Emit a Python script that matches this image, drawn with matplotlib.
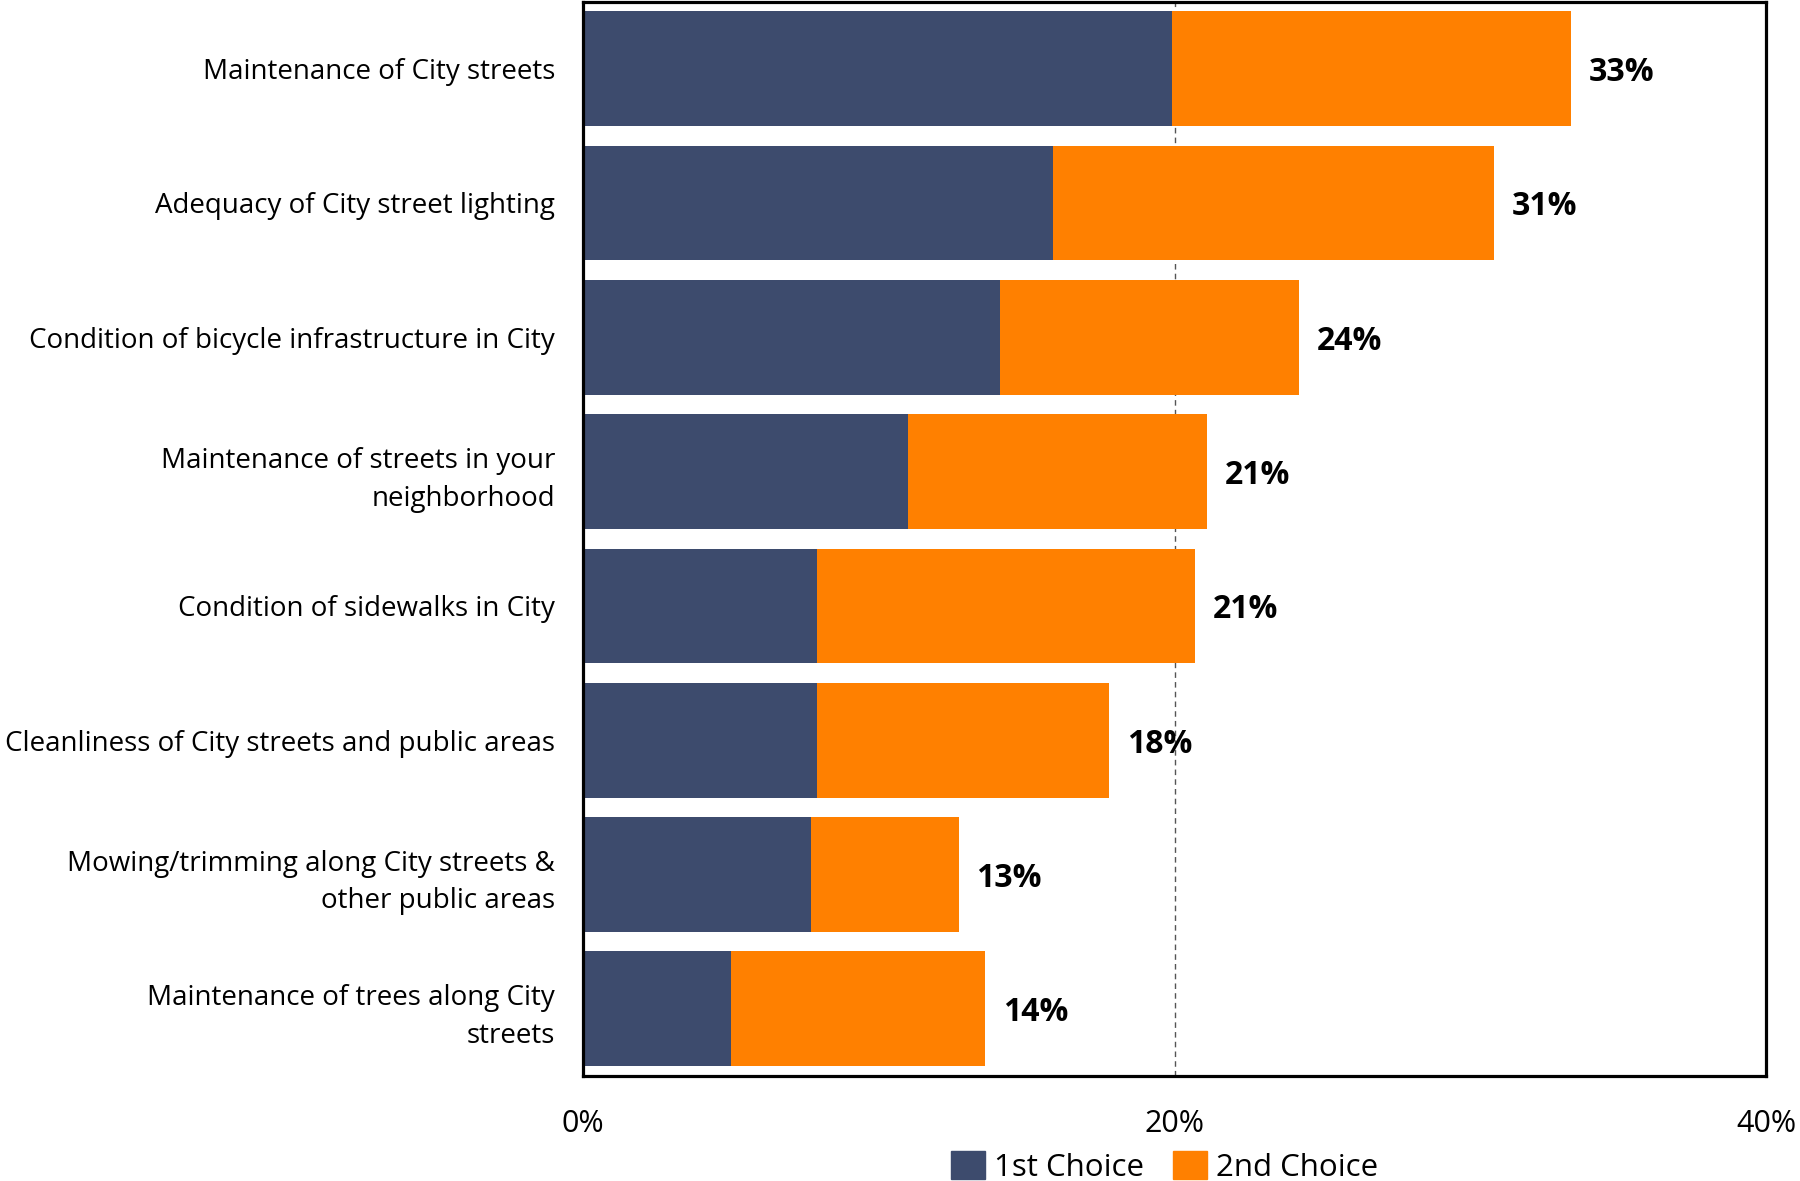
import numpy as np
import matplotlib.pyplot as plt
from matplotlib.patches import Patch

plt.rcParams["font.family"] = ["Open Sans", "DejaVu Sans"]

categories = [
    "Maintenance of City streets",
    "Adequacy of City street lighting",
    "Condition of bicycle infrastructure in City",
    "Maintenance of streets in your\nneighborhood",
    "Condition of sidewalks in City",
    "Cleanliness of City streets and public areas",
    "Mowing/trimming along City streets &\nother public areas",
    "Maintenance of trees along City\nstreets",
]
first_choice = [19.9, 15.9, 14.1, 11.0, 7.9, 7.9, 7.7, 5.0]
second_choice = [13.5, 14.9, 10.1, 10.1, 12.8, 9.9, 5.0, 8.6]
x_ticks = [0, 20, 40]

dark = "#3d4b6d"
orange = "#ff8000"

fig, ax = plt.subplots(figsize=(18, 11.81), dpi=100)
fig.subplots_adjust(left=0.3239, right=0.9811, top=0.9987, bottom=0.0889)

y = np.arange(len(categories))
first = np.array(first_choice)
second = np.array(second_choice)
total = first + second

ax.barh(y, first, height=0.855, color=dark, zorder=2)
ax.barh(y, second, left=first, height=0.855, color=orange, zorder=2)

for yi, t in zip(y, total):
    ax.text(t + 0.6, yi, f"{round(t)}%", va="center_baseline", ha="left",
            fontsize=23, fontweight="bold", color="black")

ax.axvline(20, color="#555555", linestyle=(0, (4, 3)), linewidth=1, zorder=1)

ax.set_xlim(0, 40)
ax.set_ylim(len(categories) - 0.5, -0.5)
ax.set_xticks(x_ticks)
ax.set_xticklabels([f"{v}%" for v in x_ticks], fontsize=22)
ax.set_yticks(y)
ax.set_yticklabels(categories, fontsize=20, linespacing=1.45)
ax.tick_params(axis="x", length=0, pad=24)
ax.tick_params(axis="y", length=0, pad=20)

for side in ax.spines.values():
    side.set_linewidth(2.3)
    side.set_color("black")

handles = [Patch(color=dark, label="1st Choice"), Patch(color=orange, label="2nd Choice")]
fig.legend(handles=handles, loc="center", bbox_to_anchor=(0.647, 0.012), ncol=2,
           frameon=False, fontsize=22.5, handlelength=1.1, handleheight=1.0,
           handletextpad=0.3, columnspacing=0.9)

plt.savefig("out.png", dpi=100)
plt.close()
